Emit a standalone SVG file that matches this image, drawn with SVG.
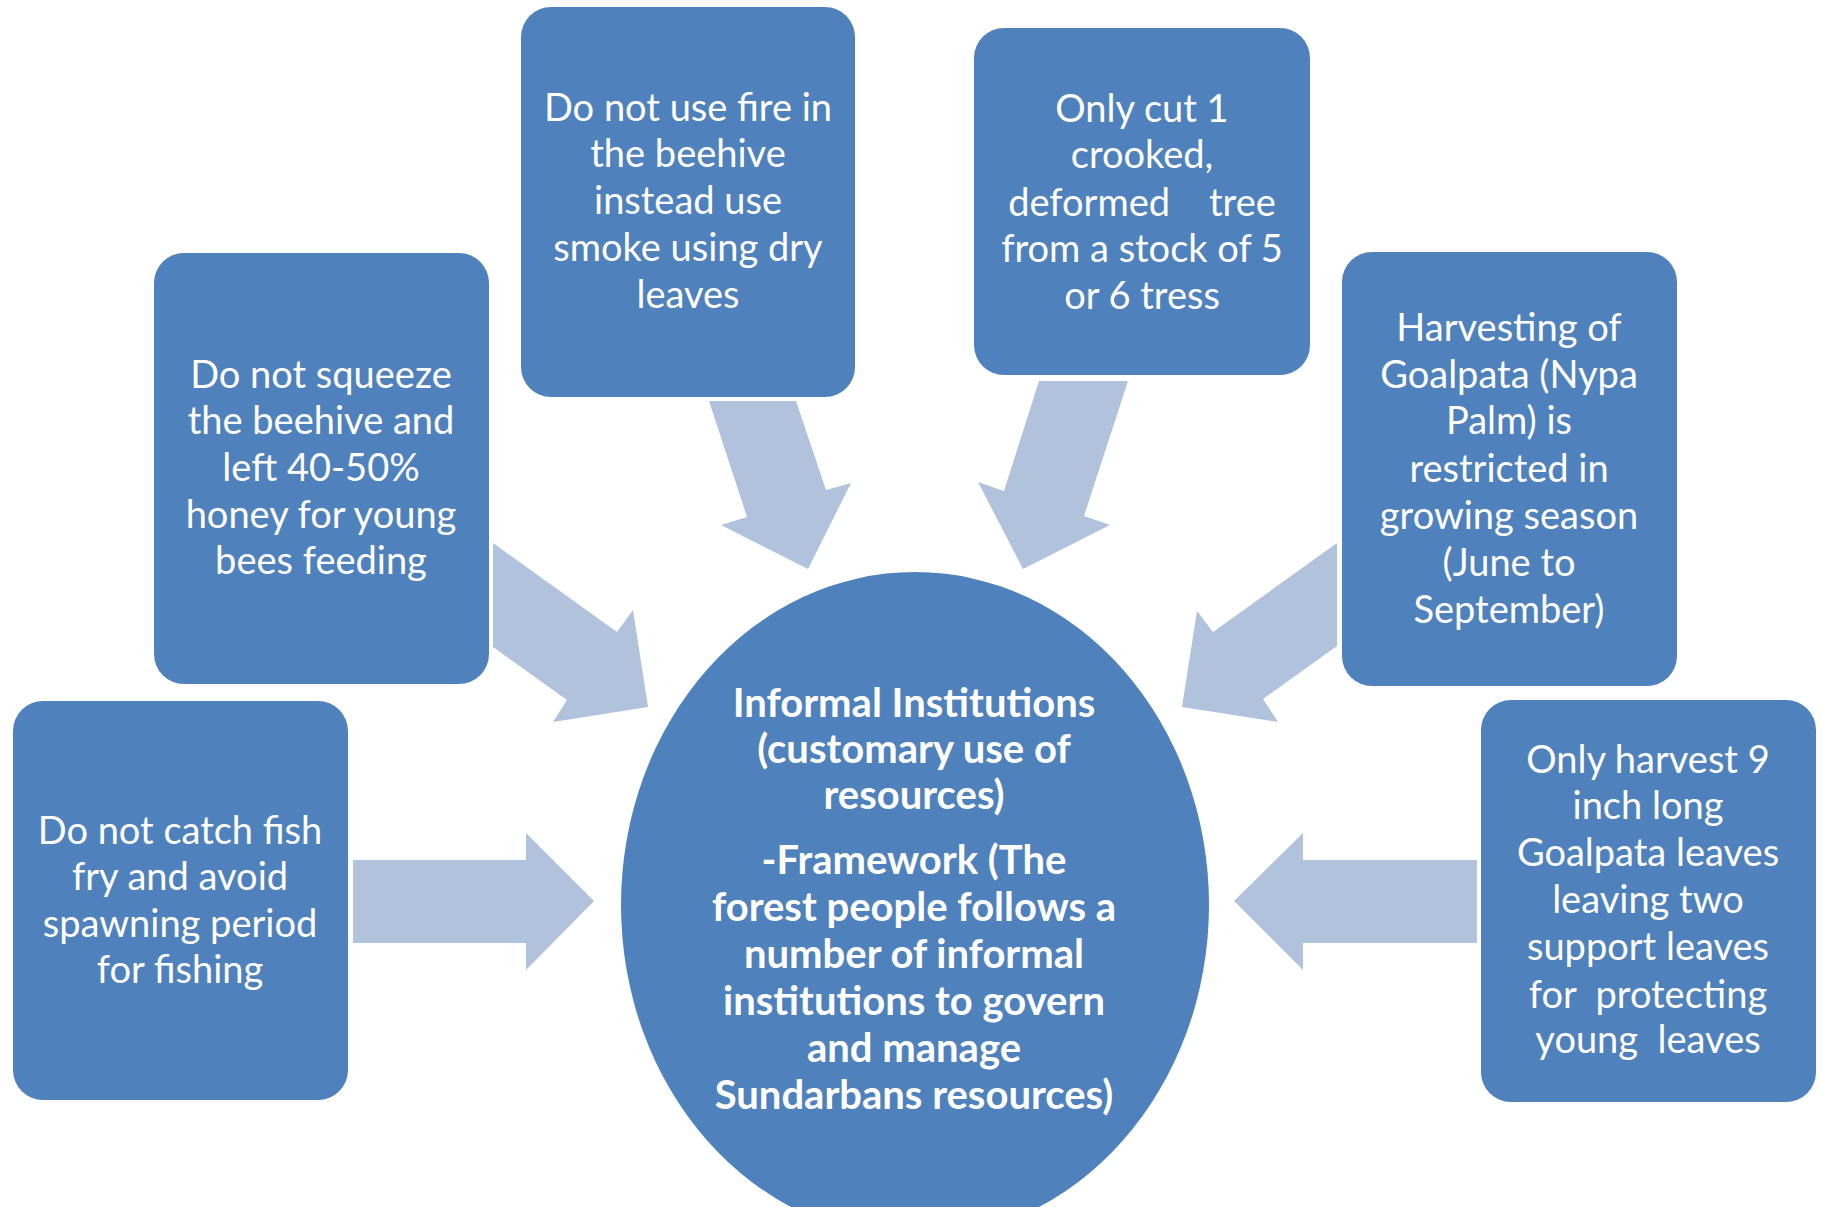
<svg xmlns="http://www.w3.org/2000/svg" width="1822" height="1207" viewBox="0 0 1822 1207">
<style>
.box{fill:#4F81BD;}
.arr{fill:#B1C2DC;}
.t{font-family:Lato,"Open Sans","Liberation Sans",sans-serif;font-size:38px;fill:#FFFFFF;text-anchor:middle;white-space:pre;}
.tb{font-family:Lato,"Open Sans","Liberation Sans",sans-serif;font-size:40px;font-weight:bold;fill:#FFFFFF;text-anchor:middle;}
</style>
<rect width="1822" height="1207" fill="#FFFFFF"/>
<g id="connectors">
<polygon class="arr" points="353,860 526,860 526,833 594,901 526,970 526,943 353,943"/>
<polygon class="arr" points="1477,860 1303,860 1303,833 1234,901 1303,970 1303,943 1477,943"/>
<polygon class="arr" points="493,543 617,632 633,610 648,707 553,722 567,700 493,647"/>
<polygon class="arr" points="709,401 796,401 826,490 851,483 808,569 721,525 747,517"/>
<polygon class="arr" points="1039,381 1128,381 1084,516 1110,525 1023,569 978,482 1004,491"/>
<polygon class="arr" points="1337,543 1337,646 1263,699 1278,722 1182,707 1197,611 1213,632"/>
</g>
<g id="center">
<ellipse class="box" cx="915" cy="905" rx="294" ry="333"/>
<text class="tb" x="914" y="717">Informal Institutions</text>
<text class="tb" x="914" y="763">(customary use of</text>
<text class="tb" x="914" y="809">resources)</text>
<text class="tb" x="914" y="874">-Framework (The</text>
<text class="tb" x="914" y="921">forest people follows a</text>
<text class="tb" x="914" y="968">number of informal</text>
<text class="tb" x="914" y="1015">institutions to govern</text>
<text class="tb" x="914" y="1062">and manage</text>
<text class="tb" x="914" y="1109">Sundarbans resources)</text>
</g>
<g id="fish">
<rect class="box" x="13" y="701" width="335" height="399" rx="30"/>
<text class="t" x="180" y="844">Do not catch fish</text>
<text class="t" x="180" y="890">fry and avoid</text>
<text class="t" x="180" y="937">spawning period</text>
<text class="t" x="180" y="983">for fishing</text>
</g>
<g id="squeeze">
<rect class="box" x="154" y="253" width="335" height="431" rx="30"/>
<text class="t" x="321" y="388">Do not squeeze</text>
<text class="t" x="321" y="434">the beehive and</text>
<text class="t" x="321" y="481">left 40-50%</text>
<text class="t" x="321" y="528">honey for young</text>
<text class="t" x="321" y="574">bees feeding</text>
</g>
<g id="fire">
<rect class="box" x="521" y="7" width="334" height="390" rx="30"/>
<text class="t" x="688" y="121">Do not use fire in</text>
<text class="t" x="688" y="167">the beehive</text>
<text class="t" x="688" y="214">instead use</text>
<text class="t" x="688" y="261">smoke using dry</text>
<text class="t" x="688" y="308">leaves</text>
</g>
<g id="tree">
<rect class="box" x="974" y="28" width="336" height="347" rx="30"/>
<text class="t" x="1142" y="122">Only cut 1</text>
<text class="t" x="1142" y="168">crooked,</text>
<text class="t" x="1142" y="216">deformed    tree</text>
<text class="t" x="1142" y="262">from a stock of 5</text>
<text class="t" x="1142" y="309">or 6 tress</text>
</g>
<g id="goalpata">
<rect class="box" x="1342" y="252" width="335" height="434" rx="30"/>
<text class="t" x="1509" y="341">Harvesting of</text>
<text class="t" x="1509" y="388">Goalpata (Nypa</text>
<text class="t" x="1509" y="434">Palm) is</text>
<text class="t" x="1509" y="482">restricted in</text>
<text class="t" x="1509" y="529">growing season</text>
<text class="t" x="1509" y="576">(June to</text>
<text class="t" x="1509" y="623">September)</text>
</g>
<g id="leaves">
<rect class="box" x="1481" y="700" width="335" height="402" rx="30"/>
<text class="t" x="1648" y="773">Only harvest 9</text>
<text class="t" x="1648" y="819">inch long</text>
<text class="t" x="1648" y="866">Goalpata leaves</text>
<text class="t" x="1648" y="913">leaving two</text>
<text class="t" x="1648" y="960">support leaves</text>
<text class="t" x="1648" y="1008">for  protecting</text>
<text class="t" x="1648" y="1053">young  leaves</text>
</g>
</svg>
